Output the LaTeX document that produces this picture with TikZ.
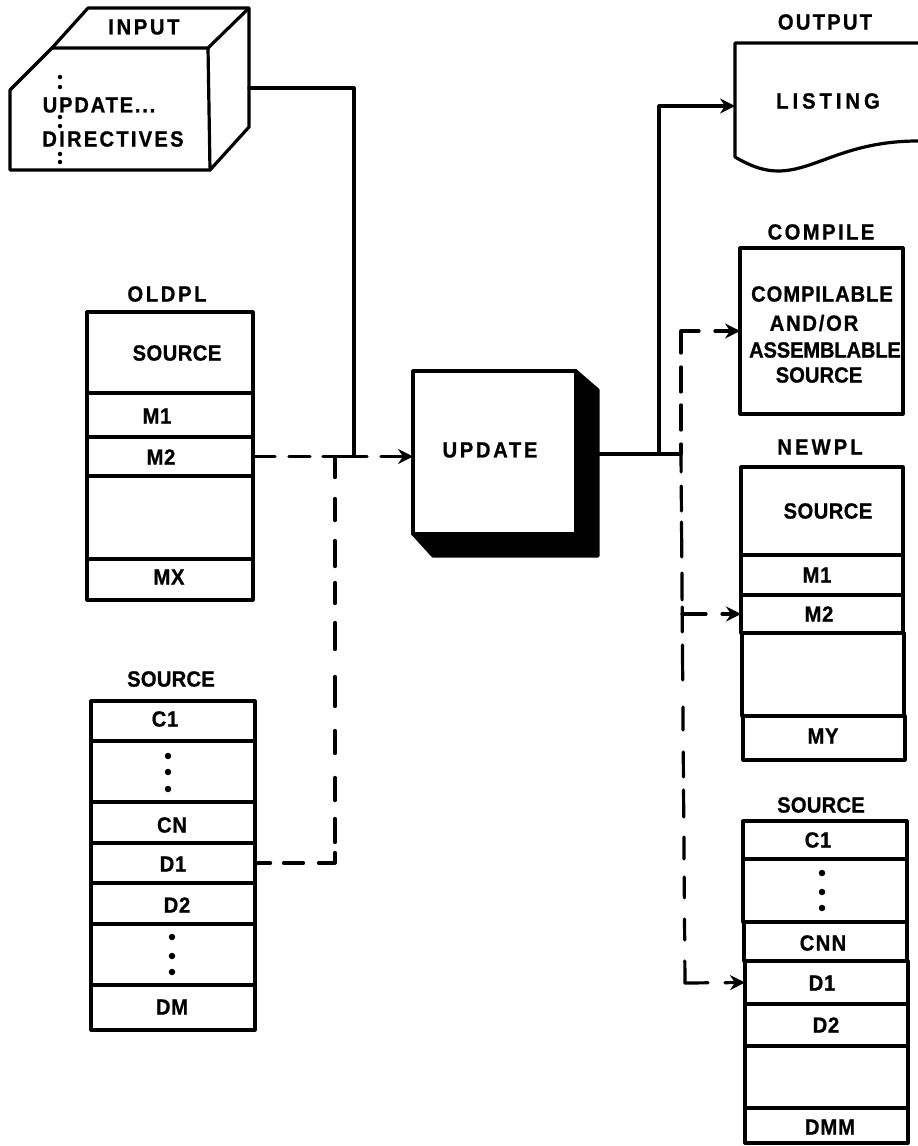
\documentclass[tikz,border=0pt]{standalone}
\usepackage{fontspec}
\setmainfont{Liberation Sans}[UprightFont=* Bold,BoldFont=* Bold,FakeStretch=0.92,FakeBold=0.8]
\usetikzlibrary{arrows.meta}
\tikzset{
  ln/.style={line width=3.2pt,line join=round,line cap=round},
  cell/.style={ln,draw=black,fill=white,rectangle,inner sep=0pt,outer sep=0pt,anchor=north west},
  lab/.style={font=\fontsize{22}{25}\selectfont\addfontfeature{LetterSpace=#1},inner sep=0pt,text=black},
  lab/.default=0,
  arr/.style={-{Stealth[length=15pt,width=15pt,inset=5pt]}},
  dotmark/.style={circle,fill=black,inner sep=0pt,minimum size=#1},
  dotmark/.default=6.5pt,
}
\newcommand{\cellbox}[5]{\node[cell,minimum width={(#4-#2)*1pt},minimum height={(#5-#3)*1pt}] (#1) at (#2,#3) {};}
\begin{document}
\begin{tikzpicture}[x=1pt,y=-1pt]
\useasboundingbox (0,0) rectangle (918,1146);
% INPUT cube
\draw[ln] (10,90) -- (52,48) -- (88,8) -- (249,8) -- (249,127) -- (210,170) -- (10,170) -- cycle;
\draw[ln] (52,48) -- (208,48) -- (210,170);
\draw[ln] (208,48) -- (249,8);
\coordinate (inputout) at (249,88);
\node[lab=12] (tinput) at (144,27) {INPUT};
\node[lab=8] (tupd) at (99,105) {UPDATE...};
\node[lab=10] (tdir) at (113,139) {DIRECTIVES};
\foreach \yy/\nn in {77/a,87/b,117/c,126/d,154/e,162/f} \node[dotmark=4.5pt] (idot\nn) at (60,\yy) {};
% OLDPL
\node[lab=12] (toldpl) at (167,294) {OLDPL};
\cellbox{oldsrc}{87}{312}{253}{393}
\cellbox{oldma}{87}{393}{253}{437}
\cellbox{oldmb}{87}{437}{253}{476}
\cellbox{oldbl}{87}{476}{253}{559}
\cellbox{oldmx}{87}{559}{253}{600}
\node[lab=2] (toldsrc) at (177,353) {SOURCE};
\node[lab=3] (toldma) at (157,416) {M1};
\node[lab=3] (toldmb) at (161,457) {M2};
\node[lab=3] (toldmx) at (169,577) {MX};
% left SOURCE
\node[lab=1] (tlsrc) at (171,679) {SOURCE};
\cellbox{lca}{91}{701}{255}{741}
\cellbox{lcdots}{91}{741}{255}{802}
\cellbox{lcn}{91}{802}{255}{843}
\cellbox{lda}{91}{843}{255}{883}
\cellbox{ldb}{91}{883}{255}{924}
\cellbox{lddots}{91}{924}{255}{985}
\cellbox{ldm}{91}{985}{255}{1030}
\node[lab=3] (tlca) at (165,719) {C1};
\node[lab=3] (tlcn) at (172,825) {CN};
\node[lab=3] (tlda) at (173,864) {D1};
\node[lab=3] (tldb) at (177,905) {D2};
\node[lab=3] (tldm) at (172,1007) {DM};
\foreach \yy/\nn in {756/a,772/b,789/c} \node[dotmark] (lcd\nn) at (168,\yy) {};
\foreach \yy/\nn in {937/a,956/b,972/c} \node[dotmark] (lmd\nn) at (172,\yy) {};
% UPDATE
\fill[black,draw=black,ln] (576,371) -- (598,390) -- (598,556) -- (433,556) -- (413,534) -- cycle;
\node[cell,minimum width=163pt,minimum height=163pt] (update) at (413,371) {};
\node[lab=12] (tupdate) at (490,450) {UPDATE};
\coordinate (upout) at (598,454);
% OUTPUT
\node[lab=10] (toutput) at (825,22) {OUTPUT};
\draw[ln,fill=white] (918,43) -- (735,43) -- (735,157) .. controls (752,167) and (765,171) .. (778,171) .. controls (815,171) and (845,141) .. (918,141);
\coordinate (listin) at (735,106);
\node[lab=18] (tlisting) at (828,101) {LISTING};
% COMPILE
\node[lab=11] (tcompile) at (821,232) {COMPILE};
\cellbox{compile}{740}{248}{903}{414}
\node[lab=4] (tca) at (822,294) {COMPILABLE};
\node[lab=8] (tcb) at (814,323) {AND/OR};
\node[lab=-1] (tcc) at (825,350) {ASSEMBLABLE};
\node[lab=0] (tcd) at (819,375) {SOURCE};
% NEWPL
\node[lab=14] (tnewpl) at (820,447) {NEWPL};
\cellbox{newsrc}{741}{467}{903}{555}
\cellbox{newma}{741}{555}{903}{595}
\cellbox{newmb}{741}{595}{903}{633}
\cellbox{newbl}{742}{633}{904}{716}
\cellbox{newmy}{743}{716}{905}{760}
\node[lab=2] (tnewsrc) at (828,511) {SOURCE};
\node[lab=3] (tnewma) at (817,575) {M1};
\node[lab=3] (tnewmb) at (819,614) {M2};
\node[lab=3] (tnewmy) at (823,736) {MY};
% right SOURCE
\node[lab=1] (trsrc) at (821,805) {SOURCE};
\cellbox{rca}{743}{821}{907}{859}
\cellbox{rcdots}{743}{859}{907}{922}
\cellbox{rcnn}{744}{922}{907}{961}
\cellbox{rda}{745}{961}{908}{1004}
\cellbox{rdb}{745}{1004}{908}{1046}
\cellbox{rbl}{745}{1046}{908}{1108}
\cellbox{rdmm}{745}{1108}{908}{1143}
\node[lab=3] (trca) at (818,840) {C1};
\node[lab=6] (trcnn) at (823,943) {CNN};
\node[lab=3] (trda) at (822,983) {D1};
\node[lab=3] (trdb) at (826,1025) {D2};
\node[lab=4] (trdmm) at (830,1127) {DMM};
\foreach \yy/\nn in {873/a,892/b,908/c} \node[dotmark] (rcd\nn) at (822,\yy) {};
% junctions
\coordinate (jl) at (335,456.5);
\coordinate (jin) at (354,456.5);
\coordinate (jo) at (659,454);
\coordinate (jr) at (681,454);
\coordinate (jb) at (682,614);
\coordinate (jend) at (685,983);
% solid connectors
\draw[ln] (inputout) -| (jin);
\draw[ln,arr] (jo) |- (listin);
\draw[ln] (upout) -- (jr);
% dashed connectors
\draw[ln,arr,dash pattern=on 22pt off 14pt on 21pt off 13pt on 44pt off 14pt on 60pt off 60pt] (oldmb.east) -- (oldmb.east -| update.west);
\draw[ln,dash pattern=on 21pt off 21pt on 22pt off 20pt on 26pt off 16pt on 21pt off 19pt on 27pt off 27pt on 30pt off 24pt on 23pt off 24pt on 23pt off 18pt on 24pt off 10pt on 27pt off 15pt on 20pt off 13pt on 15pt off 40pt] (jl) -- (jl |- lda.east) -- (lda.east);
\draw[ln,arr,dash pattern=on 10pt off 14pt on 25pt off 13pt on 25pt off 14pt on 40pt off 16pt on 60pt off 60pt] (jr) |- (compile.west);
\draw[ln,dash pattern=on 18pt off 14pt on 25pt off 11pt on 35pt off 16pt on 27pt off 7pt on 25pt off 13pt on 35pt off 27pt on 23pt off 22pt on 25pt off 13pt on 27pt off 20pt on 22pt off 18pt on 21pt off 21pt on 21pt off 21pt on 22pt off 80pt] (jr) -- (jend);
\draw[ln,arr,dash pattern=on 23pt off 17pt on 60pt off 60pt] (jend) -- (rda.west);
\draw[ln,arr,dash pattern=on 24pt off 16pt on 60pt off 60pt] (jb) -- (newmb.west);
\end{tikzpicture}
\end{document}
